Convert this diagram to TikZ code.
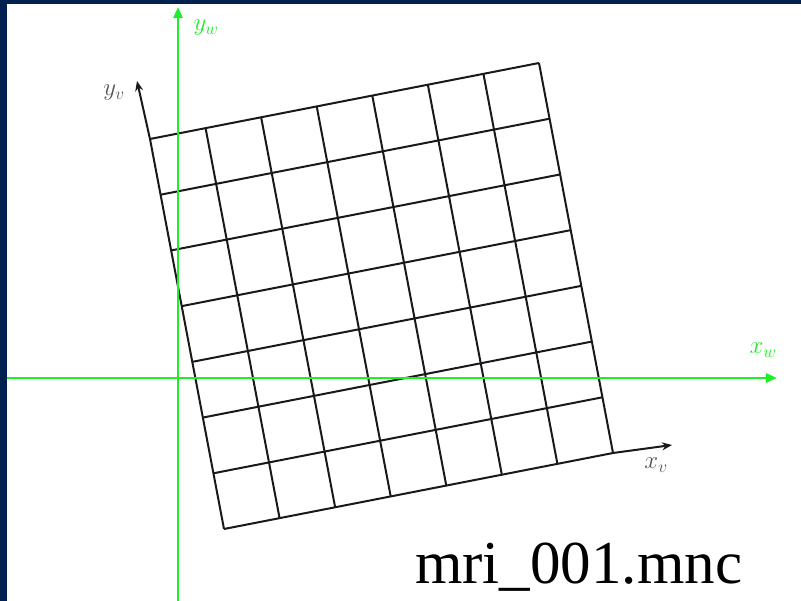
\documentclass[tikz,border=0pt]{standalone}
\usepackage{fontspec}
\setmainfont{Liberation Serif}
\usepackage{xcolor}
\usepackage{tikz}
\usetikzlibrary{arrows.meta,calc}

\definecolor{slidenavy}{RGB}{0,32,80}
\definecolor{worldgreen}{RGB}{30,238,40}
\definecolor{labelgray}{RGB}{85,85,85}

\begin{document}
\begin{tikzpicture}[
    x=1pt, y=-1pt,
    gridline/.style={line width=2pt, black!90},
    vaxis/.style={line width=2pt, black!90, -{Stealth[length=10pt, width=8pt]}},
    waxis/.style={line width=2.6pt, worldgreen, -{Triangle[length=11pt, width=9pt]}},
    wlabel/.style={font=\fontsize{24}{26}\selectfont, color=worldgreen},
    vlabel/.style={font=\fontsize{24}{26}\selectfont, color=labelgray}
]

\useasboundingbox (0,0) rectangle (801,601);

% =========================================================
% slide frame
% =========================================================
\fill[white] (0,0) rectangle (801,601);
\fill[slidenavy] (0,0) rectangle (7,601);
\fill[slidenavy] (0,0) rectangle (801,4);

% =========================================================
% rotated voxel grid (7 x 7)
% =========================================================
\coordinate (bl) at (224,529);
\coordinate (br) at (613,453);
\coordinate (tl) at (150,139);
\coordinate (tr) at (539,63);

\foreach \i in {0,...,7} {
  \draw[gridline] ($(bl)!\i/7!(br)$) -- ($(tl)!\i/7!(tr)$);
  \draw[gridline] ($(bl)!\i/7!(tl)$) -- ($(br)!\i/7!(tr)$);
}

\coordinate (yv_tip) at (137,81);
\coordinate (xv_tip) at (672,445);
\draw[vaxis] (tl) -- (yv_tip);
\draw[vaxis] (br) -- (xv_tip);

\node[vlabel] (yv) at (114,93) {$y_v$};
\node[vlabel] (xv) at (656,465) {$x_v$};

% =========================================================
% world axes
% =========================================================
\coordinate (yw_foot) at (178,601);
\coordinate (yw_tip) at (178,7);
\coordinate (xw_foot) at (7,378);
\coordinate (xw_tip) at (777,378);
\draw[waxis] (yw_foot) -- (yw_tip);
\draw[waxis] (xw_foot) -- (xw_tip);

\node[wlabel] (yw) at (206,28) {$y_w$};
\node[wlabel] (xw) at (763,350) {$x_w$};

% =========================================================
% file name
% =========================================================
\node[anchor=base west, inner sep=0pt, font=\fontsize{61}{66}\selectfont]
   (fname) at (415,583) {mri\_001.mnc};

\end{tikzpicture}
\end{document}
